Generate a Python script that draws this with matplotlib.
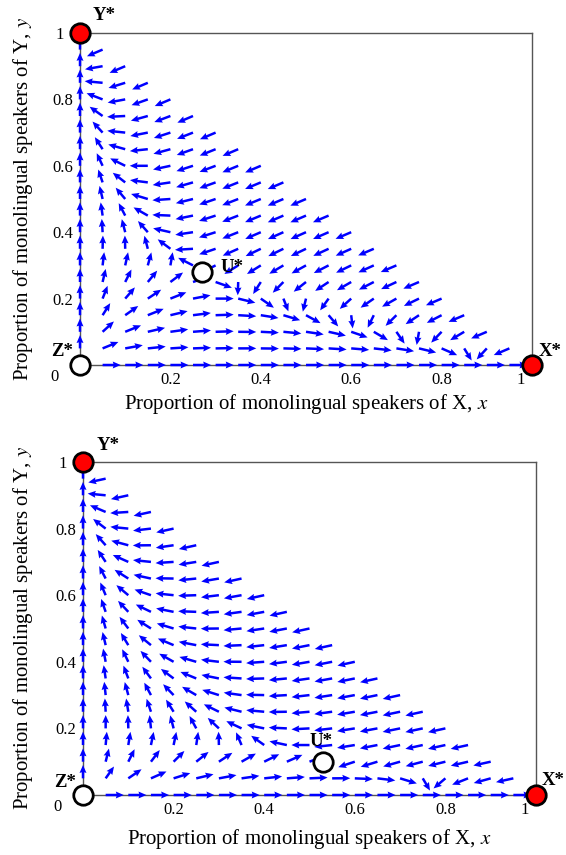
import numpy as np
import matplotlib.pyplot as plt
from matplotlib.transforms import ScaledTranslation

plt.rcParams['font.family'] = 'serif'
plt.rcParams['font.serif'] = ['Liberation Serif', 'DejaVu Serif']
plt.rcParams['mathtext.fontset'] = 'stix'

# sample points of the direction field (both axes)
grid = np.linspace(0, 1, 21)

# equilibria
point_names = ['Y*', 'X*', 'Z*', 'U*']
point_stable = [True, True, False, False]
top_px = [0, 1, 0, 0.27]
top_py = [1, 0, 0, 0.28]
bot_px = [0, 1, 0, 0.53]
bot_py = [1, 0, 0, 0.10]

# dy/dx of the drift along the edge x + y = 1
top_edge_ratio = 0.58
bot_edge_ratio = 0.30

ticks = [0.2, 0.4, 0.6, 0.8, 1]
tick_text = ['0.2', '0.4', '0.6', '0.8', '1']

xlab = 'Proportion of monolingual speakers of X, $x$'
ylab = 'Proportion of monolingual speakers of Y, $y$'


def field(x, y, ux, uy, ratio):
    # competition model x' = x(a z - y), y' = y(g z - r x), z = 1 - x - y
    # a and g are fixed by the saddle U*
    z = 1 - x - y
    zu = 1 - ux - uy
    a = uy / zu
    g = ratio * ux / zu
    return x * (a * z - y), y * (g * z - ratio * x)


def panel(ax, px, py, ratio, lab_off):
    X, Y = np.meshgrid(grid, grid)
    X = X.ravel()
    Y = Y.ravel()
    keep = X + Y <= 1 + 1e-9
    X, Y = X[keep], Y[keep]
    U, V = field(X, Y, px[3], py[3], ratio)
    L = np.hypot(U, V)
    ok = L > 1e-12
    X, Y, U, V, L = X[ok], Y[ok], U[ok], V[ok], L[ok]
    U = U / L * 0.04
    V = V / L * 0.04
    q = ax.quiver(X, Y, U, V, angles='xy', scale_units='xy', scale=1, pivot='tail',
                  color='#0000ff', width=0.0055, headwidth=2.8, headlength=3.2,
                  headaxislength=2.9, zorder=3)
    q.set_clip_on(False)

    for i in range(4):
        fc = 'red' if point_stable[i] else 'white'
        ax.plot(px[i], py[i], 'o', ms=14, mfc=fc, mec='black', mew=2,
                clip_on=False, zorder=5)
        dx, dy, ha = lab_off[i]
        ax.annotate(point_names[i], (px[i], py[i]), xytext=(dx, dy),
                    textcoords='offset points', ha=ha, va='baseline',
                    fontsize=13.5, fontweight='bold', annotation_clip=False)

    ax.set_xlim(0, 1)
    ax.set_ylim(0, 1)
    ax.set_xticks(ticks)
    ax.set_yticks(ticks)
    ax.set_xticklabels(tick_text)
    ax.set_yticklabels(tick_text)
    ax.tick_params(length=0, labelsize=12, pad=5)
    # the "1" labels sit a bit away from the red markers
    fig = ax.figure
    ax.get_xticklabels()[-1].set_transform(
        ax.get_xticklabels()[-1].get_transform() + ScaledTranslation(-0.11, 0, fig.dpi_scale_trans))
    ax.get_yticklabels()[-1].set_transform(
        ax.get_yticklabels()[-1].get_transform() + ScaledTranslation(-0.09, 0, fig.dpi_scale_trans))
    ax.annotate('0', (0, 0), xytext=(-18.5, -8.5), textcoords='offset points',
                ha='center', va='center', fontsize=12, annotation_clip=False)
    for s in ax.spines.values():
        s.set_color('#555555')
        s.set_linewidth(1.0)
    ax.set_xlabel(xlab, fontsize=15)
    ax.set_ylabel(ylab, fontsize=15)


fig = plt.figure(figsize=(5.66, 8.55), dpi=100)

ax1 = fig.add_axes([80 / 566, 1 - 365 / 855, 452 / 566, 332 / 855])
panel(ax1, top_px, top_py, top_edge_ratio,
      [(9.4, 9.4, 'left'), (5, 6.5, 'left'), (-5, 6.5, 'right'), (13, 0, 'left')])
ax1.xaxis.set_label_coords(0.5, -0.08)
ax1.yaxis.set_label_coords(-0.1, 0.5)

ax2 = fig.add_axes([83 / 566, 1 - 795 / 855, 453 / 566, 333 / 855])
panel(ax2, bot_px, bot_py, bot_edge_ratio,
      [(10, 8.6, 'left'), (4.3, 7.2, 'left'), (-5, 5.8, 'right'), (-1.5, 11.5, 'center')])
ax2.xaxis.set_label_coords(0.5, -0.097)
ax2.yaxis.set_label_coords(-0.105, 0.5)

fig.savefig('out.png', dpi=100)
